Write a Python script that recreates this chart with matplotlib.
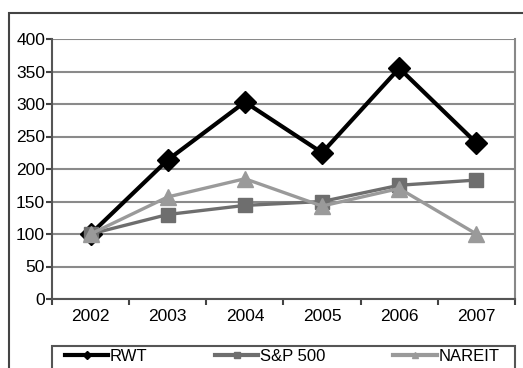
import matplotlib.pyplot as plt
import matplotlib.patches as mpatches
from matplotlib.lines import Line2D

years = ["2002", "2003", "2004", "2005", "2006", "2007"]
rwt = [100, 214, 303, 225, 355, 240]
sp500 = [100, 130, 144, 150, 175, 183]
nareit = [100, 157, 185, 143, 170, 100]

plt.rcParams["font.family"] = ["Liberation Sans", "DejaVu Sans"]

W, H = 523, 368
fig = plt.figure(figsize=(W / 100, H / 100), dpi=100)

# outer frame (runs off right and bottom edges)
fig.patches.append(mpatches.Rectangle((9 / W, -0.1), 1.2, 1 - 13 / H + 0.1,
                                      transform=fig.transFigure, fill=False,
                                      edgecolor="#444444", lw=1.5))
# legend box
fig.patches.append(mpatches.Rectangle((52 / W, -0.1), 463 / W, 1 - 346 / H + 0.1,
                                      transform=fig.transFigure, fill=False,
                                      edgecolor="#555555", lw=1.5))

ax = fig.add_axes([52 / W, 1 - 299 / H, 463 / W, 260 / H])
x = range(len(years))

ax.plot(x, rwt, color="black", lw=3, marker="D", ms=11, zorder=3)
ax.plot(x, sp500, color="#6e6e6e", lw=2.4, marker="s", ms=10, zorder=4)
ax.plot(x, nareit, color="#9a9a9a", lw=2.4, marker="^", ms=12, zorder=5)

ax.set_xlim(-0.5, 5.5)
ax.set_ylim(0, 400)
ax.set_yticks(range(0, 401, 50))
ax.set_xticks(list(x))
ax.set_xticklabels(years)
ax.set_xticks([i + 0.5 for i in range(-1, 6)], minor=True)
ax.tick_params(axis="x", which="major", length=0, pad=7, labelsize=12.5)
ax.tick_params(axis="x", which="minor", length=4, width=1.5, color="#444444")
ax.tick_params(axis="y", length=4, width=1.5, color="#444444", pad=1, labelsize=12.5)
ax.grid(axis="y", color="#8a8a8a", lw=1.5, zorder=0)
for s in ax.spines.values():
    s.set_color("#555555")
    s.set_linewidth(1.5)
ax.spines["top"].set_visible(False)
ax.spines["right"].set_color("#888888")

handles = [
    Line2D([], [], color="black", lw=3, marker="D", ms=4),
    Line2D([], [], color="#6e6e6e", lw=3, marker="s", ms=4),
    Line2D([], [], color="#9a9a9a", lw=3, marker="^", ms=4),
]
fig.legend(handles, ["RWT", "S&P 500", "NAREIT"], ncol=3, mode="expand",
           loc="upper left", bbox_to_anchor=(64 / W, 1 - 348 / H, 436 / W, 0.0),
           frameon=False, fontsize=12, handlelength=2.6,
           handletextpad=0.1, borderpad=0.05, borderaxespad=0)

fig.savefig("out.png", dpi=100)
